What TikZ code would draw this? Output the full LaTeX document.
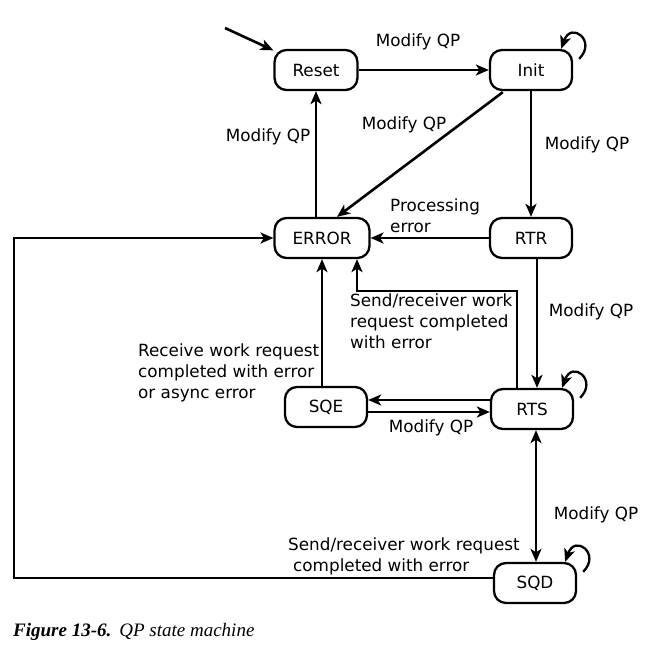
\documentclass[tikz,border=0pt]{standalone}
\usepackage{fontspec}
\setmainfont{DejaVu Sans}
\newfontfamily\capfont{Liberation Serif}
\usetikzlibrary{arrows.meta,calc}
\tikzset{
  tip/.tip={Stealth[length=13pt,width=11pt,inset=3.5pt]},
  state/.style={draw, line width=2.3pt, rounded corners=12pt, minimum width=82pt,
    minimum height=40pt, inner xsep=18pt, inner ysep=0pt, font=\fontsize{16.8}{21}\selectfont},
  arr/.style={line width=2.6pt, -tip},
  arrtwo/.style={line width=2.6pt, tip-tip},
  lbl/.style={inner sep=0pt, font=\fontsize{16.8}{21}\selectfont},
  lbll/.style={lbl, align=left, anchor=base west},
}
\begin{document}
\begin{tikzpicture}[x=1pt,y=-1pt]
\useasboundingbox (0,0) rectangle (647,658);
% states
\node[state] (reset) at (316,70) {Reset};
\node[state] (init)  at (531,70) {Init};
\node[state] (error) at (322,238) {ERROR};
\node[state] (rtr)   at (531,238) {RTR};
\node[state] (sqe)   at (326,407) {SQE};
\node[state] (rts)   at (532,409) {RTS};
\node[state] (sqd)   at (535,583) {SQD};
\coordinate (start) at (225,28);
\coordinate (lc) at (14,0);
% labels
\node[lbl] (l1) at (418,42) {Modify QP};
\node[lbl] (l2) at (268,137) {Modify QP};
\node[lbl] (l3) at (404,125) {Modify QP};
\node[lbl] (l4) at (587,145) {Modify QP};
\node[lbll] (l5) at (390,232) {Processing\\error};
\node[lbll] (l6) at (350,348) {Send/receiver work\\request completed\\with error};
\node[lbll] (l7) at (138,398) {Receive work request\\completed with error\\or async error};
\node[lbl] (l8) at (591,312) {Modify QP};
\node[lbl] (l9) at (431,428) {Modify QP};
\node[lbl] (l10) at (596,515) {Modify QP};
\node[lbll] (l11) at (288,571) {Send/receiver work request\\\hspace*{5pt}completed with error};
\node[inner sep=0pt, anchor=base west, font=\capfont\fontsize{19}{22}\selectfont] (cap) at (13,636)
  {\textbf{\textit{Figure 13-6.}}\hspace{8pt}\textit{QP state machine}};
% connectors
\draw[arr] (start) -- (reset);
\draw[arr] (reset) -- (init);
\draw[arr] (reset.south |- error.north) -- (reset.south);
\draw[arr] ($(init.south west)+(14,1)$) -- ($(error.north)+(15,0)$);
\draw[arr] (init.south) -- (rtr.north);
\draw[arr] (rtr.west) -- (error.east);
\draw[arr] ([xshift=6pt]rtr.south) -- ([xshift=6pt]rtr.south |- rts.north);
\draw[arr] ([xshift=-15pt]rts.north) |- ($(error.south)+(35,32)$) -- ($(error.south)+(35,0)$);
\draw[arr] (sqe.north -| error.south) -- (error.south);
\draw[arr] ([yshift=9pt]rts.west) -- ([yshift=9pt]rts.west -| sqe.east);
\draw[arr] ([yshift=-3pt]rts.west -| sqe.east) -- ([yshift=-3pt]rts.west);
\draw[arrtwo] ([xshift=4pt]rts.south) -- ([xshift=4pt]rts.south |- sqd.north);
\draw[arr] ([yshift=5pt]sqd.west) -| (error.west -| lc) -- (error.west);
% self loops
\foreach \n in {init,rts,sqd}{
  \draw[arr, line width=2.3pt] ($(\n.north east)+(6,10)$) .. controls ($(\n.north east)+(24,-8)$) and ($(\n.north east)+(-2,-28)$) .. ($(\n.north east)+(-12,0)$);
}
\end{tikzpicture}
\end{document}
